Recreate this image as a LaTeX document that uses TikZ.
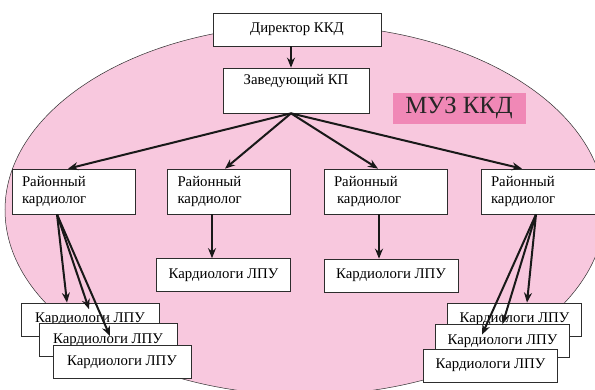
\documentclass[tikz,border=0pt]{standalone}
\usepackage{fontspec}
\setmainfont{Liberation Serif}
\definecolor{ovalpink}{RGB}{248, 200, 222}
\definecolor{muzpink}{RGB}{240, 136, 182}
\definecolor{linegray}{RGB}{45, 45, 45}
\usepackage{tikz}
\usetikzlibrary{arrows.meta, positioning, calc}

\begin{document}
\begin{tikzpicture}[x=1pt, y=-1pt,
  box/.style={draw=linegray, line width=0.7pt, fill=white, inner sep=0pt, font=\fontsize{14.8}{17}\selectfont},
  distbox/.style={box, minimum width=123pt, minimum height=45pt, text width=103pt, align=left},
  lpubox/.style={box, minimum width=134pt, minimum height=33pt, align=center},
  arr/.style={-{Stealth[length=10pt, width=8pt]}, line width=2pt, black!90}]
  % Frame and oval
  \useasboundingbox (0,0) rectangle (595,390);
  \clip (0,0) rectangle (595,390);
  \filldraw[fill=ovalpink, draw=linegray, line width=0.5pt] (305,210) ellipse [x radius=300pt, y radius=185pt];

  % Top of the chart
  \node[box, minimum width=168pt, minimum height=33pt] (dir) at (297,29.5) {Директор ККД};
  \node[box, minimum width=146pt, minimum height=45pt, align=center] (zav) at (296,90.5) {Заведующий КП\\\strut};
  \coordinate (apex) at ([xshift=-5pt]zav.south);

  % Label of the oval
  \node[fill=muzpink, draw=white!55!muzpink, line width=0.8pt, minimum width=134pt, minimum height=32pt, inner sep=0pt, font=\fontsize{24.7}{25}\selectfont, text=black!85] (muz) at (459,108) {МУЗ ККД};

  % District cardiologists
  \node[distbox] (r1) at (73.5,191.5) {Районный\\кардиолог};
  \node[distbox] (r2) at (229,191.5) {Районный\\кардиолог};
  \node[distbox] (r3) at (385.5,191.5) {Районный\\\hspace{3pt}кардиолог};
  \node[distbox] (r4) at (542.5,191.5) {Районный\\кардиолог};

  % Single LPU boxes
  \node[lpubox] (l2) at (223.5,275) {Кардиологи ЛПУ};
  \node[lpubox] (l3) at (391,275.5) {Кардиологи ЛПУ};

  % Stacked LPU boxes, left
  \node[lpubox, minimum width=138pt] (a1) at (90,319.5) {Кардиологи ЛПУ};
  \node[lpubox, minimum width=138pt] (a2) at (108,340) {Кардиологи ЛПУ};
  \node[lpubox, minimum width=138pt] (a3) at (122,362) {Кардиологи ЛПУ};

  % Stacked LPU boxes, right
  \node[lpubox] (b1) at (514.5,319.5) {Кардиологи ЛПУ};
  \node[lpubox] (b2) at (502.5,341) {Кардиологи ЛПУ};
  \node[lpubox] (b3) at (490.5,365.5) {Кардиологи ЛПУ};

  % Arrows from the top
  \draw[arr] (dir.south -| apex) -- (zav.north -| apex);
  \draw[arr] (apex) -- ([xshift=-5.5pt]r1.north);
  \draw[arr] (apex) -- ([xshift=-4pt]r2.north);
  \draw[arr] (apex) -- ([xshift=-7.5pt]r3.north);
  \draw[arr] (apex) -- ([xshift=-20.5pt]r4.north);

  % Arrows to single boxes
  \draw[arr] ([xshift=-17pt]r2.south) -- ([xshift=-17pt]r2.south |- l2.north);
  \draw[arr] ([xshift=-6.5pt]r3.south) -- ([xshift=-6.5pt]r3.south |- l3.north);

  % Arrows to the stacks
  \coordinate (lfoot) at ([xshift=-16.5pt]r1.south);
  \draw[arr] (lfoot) -- ([xshift=-23pt]a1.north);
  \draw[arr] (lfoot) -- ([shift={(-19,-14)}]a2.north);
  \draw[arr] (lfoot) -- ([shift={(-12,-9)}]a3.north);
  \coordinate (rfoot) at ([xshift=-6.5pt]r4.south);
  \draw[arr] (rfoot) -- ([xshift=12.5pt]b1.north);
  \draw[arr] (rfoot) -- (b2.north);
  \draw[arr] (rfoot) -- ([shift={(-8.5,-14)}]b3.north);
\end{tikzpicture}
\end{document}
